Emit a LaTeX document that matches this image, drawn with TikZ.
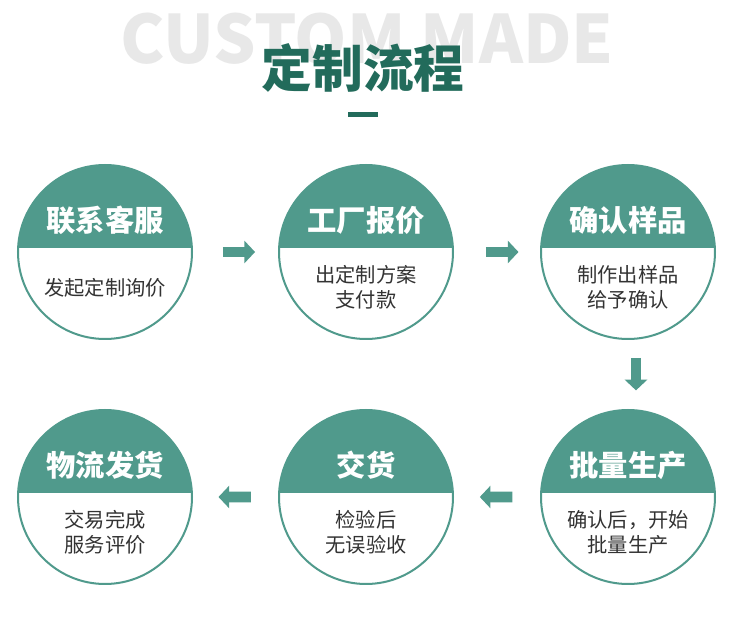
\documentclass[tikz,border=0pt]{standalone}
\usepackage{fontspec}
\newfontfamily\cjk{Noto Sans CJK SC}
\usepackage{xcolor}
\usepackage{tikz}
\usetikzlibrary{arrows.meta,positioning,calc}

\definecolor{stepteal}{HTML}{509A8C}
\definecolor{titlegreen}{HTML}{226B5B}
\definecolor{bodygray}{HTML}{333333}
\definecolor{bggray}{HTML}{E8E8E8}

\begin{document}
\begin{tikzpicture}[x=0.75pt,y=-0.75pt,
  stepcircle/.style={circle,draw=stepteal,line width=1.5pt,minimum size=130.5pt,inner sep=0pt,
    path picture={\fill[stepteal] (path picture bounding box.north west) rectangle ([yshift=3pt]path picture bounding box.east);}},
  headtext/.style={text=white,font=\cjk\bfseries\fontsize{22pt}{26pt}\selectfont,inner sep=0pt},
  bodytext/.style={text=bodygray,font=\cjk\fontsize{15.2pt}{18.8pt}\selectfont,align=center,inner sep=0pt},
  flow/.style={stepteal,line width=8pt,-{Triangle[length=8pt,width=16.5pt]}}]
  \useasboundingbox[fill=white] (0,0) rectangle (733,620);
  % title
  \node[text=bggray,font=\cjk\bfseries\fontsize{50pt}{50pt}\selectfont,inner sep=0pt] (bg) at (367,39) {CUSTOM MADE};
  \node[text=titlegreen,font=\cjk\bfseries\fontsize{38pt}{40pt}\selectfont,inner sep=0pt] (title) at (363,68) {定制流程};
  \node[fill=titlegreen,minimum width=22.5pt,minimum height=3.75pt,inner sep=0pt] (bar) at (363,115) {};
  % steps
  \node[stepcircle] (c1) at (105,252) {};
  \node[stepcircle] (c2) at (366,252) {};
  \node[stepcircle] (c3) at (628,252) {};
  \node[stepcircle] (c4) at (105,497) {};
  \node[stepcircle] (c5) at (366,497) {};
  \node[stepcircle] (c6) at (628,497) {};
  \node[headtext] (h1) at ([yshift=24pt]c1.center) {联系客服};
  \node[headtext] (h2) at ([yshift=24pt]c2.center) {工厂报价};
  \node[headtext] (h3) at ([yshift=24pt]c3.center) {确认样品};
  \node[headtext] (h4) at ([yshift=24pt]c4.center) {物流发货};
  \node[headtext] (h5) at ([yshift=24pt]c5.center) {交货};
  \node[headtext] (h6) at ([yshift=24pt]c6.center) {批量生产};
  \node[bodytext] (b1) at ([yshift=-26.5pt]c1.center) {发起定制询价};
  \node[bodytext] (b2) at ([yshift=-26.5pt]c2.center) {出定制方案\\支付款};
  \node[bodytext] (b3) at ([yshift=-26.5pt]c3.center) {制作出样品\\给予确认};
  \node[bodytext] (b4) at ([yshift=-26.5pt]c4.center) {交易完成\\服务评价};
  \node[bodytext] (b5) at ([yshift=-26.5pt]c5.center) {检验后\\无误验收};
  \node[bodytext] (b6) at ([yshift=-26.5pt]c6.center) {确认后，开始\\批量生产};
  % arrows
  \draw[flow] ($(c1.east)!0.35!(c2.west)$) -- ($(c1.east)!0.73!(c2.west)$);
  \draw[flow] ($(c2.east)!0.37!(c3.west)$) -- ($(c2.east)!0.75!(c3.west)$);
  \draw[flow] ($(c3.south)!0.26!(c6.north)+(8,0)$) -- ($(c3.south)!0.73!(c6.north)+(8,0)$);
  \draw[flow] ($(c6.west)!0.32!(c5.east)$) -- ($(c6.west)!0.70!(c5.east)$);
  \draw[flow] ($(c5.west)!0.32!(c4.east)$) -- ($(c5.west)!0.70!(c4.east)$);
\end{tikzpicture}
\end{document}
